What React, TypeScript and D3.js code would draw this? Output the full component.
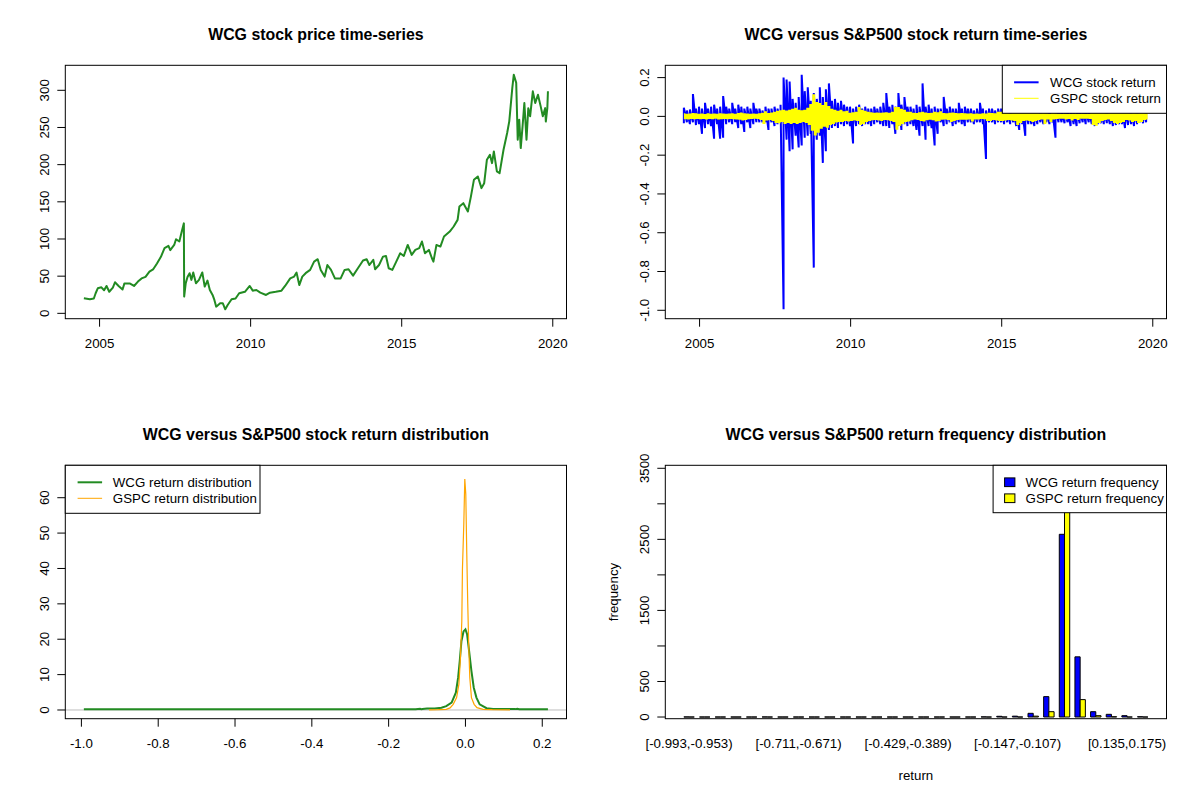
// Four-panel WCG vs S&P500 dashboard, laid out like R's mfrow = c(2, 2).
// Every panel is plain JSX with d3 scales and shapes.
import { useEffect } from "react";
import * as d3 from "d3";

const FONT = "'Liberation Sans', Arial, Helvetica, sans-serif";
const AXIS_FS = 13.3;
const TITLE_FS = 15.9;

// R margins at 96 dpi, cex 0.83: one line is about 15.9px
const MAR = { top: 65.3, right: 33.5, bottom: 81.3, left: 65.3 };
const PANEL_W = 600;
const PANEL_H = 400;
const plotW = PANEL_W - MAR.left - MAR.right;
const plotH = PANEL_H - MAR.top - MAR.bottom;

// ---- panel 1: WCG price ----
const priceDates = [
  2004.48, 2004.68, 2004.81, 2004.87, 2004.94, 2005.06, 2005.15, 2005.23, 2005.32, 2005.44,
  2005.51, 2005.63, 2005.76, 2005.82, 2006.01, 2006.14, 2006.27, 2006.39, 2006.52, 2006.65,
  2006.77, 2006.9, 2007.03, 2007.15, 2007.28, 2007.34, 2007.47, 2007.53, 2007.64, 2007.72,
  2007.79, 2007.8, 2007.85, 2007.91, 2007.98, 2008.04, 2008.1, 2008.19, 2008.29, 2008.4,
  2008.48, 2008.57, 2008.65, 2008.74, 2008.8, 2008.86, 2008.99, 2009.08, 2009.16, 2009.24,
  2009.37, 2009.5, 2009.62, 2009.81, 2009.97, 2010.07, 2010.19, 2010.32, 2010.51, 2010.64,
  2010.83, 2011.02, 2011.14, 2011.31, 2011.44, 2011.52, 2011.61, 2011.71, 2011.82, 2011.97,
  2012.1, 2012.22, 2012.32, 2012.45, 2012.54, 2012.66, 2012.79, 2012.98, 2013.11, 2013.24,
  2013.39, 2013.55, 2013.72, 2013.84, 2013.93, 2014.06, 2014.12, 2014.25, 2014.38, 2014.48,
  2014.57, 2014.69, 2014.82, 2014.95, 2015.07, 2015.2, 2015.33, 2015.45, 2015.58, 2015.67,
  2015.77, 2015.9, 2016.0, 2016.05, 2016.15, 2016.28, 2016.4, 2016.59, 2016.72, 2016.85,
  2016.91, 2017.04, 2017.19, 2017.29, 2017.39, 2017.52, 2017.64, 2017.73, 2017.82, 2017.92,
  2017.99, 2018.05, 2018.15, 2018.24, 2018.37, 2018.49, 2018.56, 2018.66, 2018.71, 2018.79,
  2018.84, 2018.89, 2018.94, 2019.0, 2019.06, 2019.13, 2019.19, 2019.25, 2019.34, 2019.42,
  2019.51, 2019.6, 2019.67, 2019.75, 2019.77, 2019.82, 2019.84,
];
const priceValues = [
  20.2, 19, 20, 27, 33.7, 35, 31, 36.8, 29, 34.6,
  41.8, 36.8, 32, 40, 40, 36.8, 42.7, 47, 49, 56,
  59, 67, 76, 87.6, 90.7, 85, 92, 99.7, 96.6, 110,
  121, 22.5, 40, 49, 54, 45, 55, 40.4, 45, 55,
  36, 44, 31.4, 24.7, 18, 9, 13.5, 13.5, 5.4, 11.2,
  18.9, 20, 27, 29, 36.8, 30.5, 31.4, 27.8, 24.7, 27.8,
  29, 30.5, 36.8, 47, 49.4, 54.8, 38, 49.4, 54, 58.4,
  69.6, 72.8, 58.4, 49.4, 65, 58.4, 47, 47, 58.4, 59.3,
  50.7, 60.6, 71, 72.8, 65, 71.9, 59.3, 65, 76.3, 77.2,
  60.6, 58.4, 69.6, 80.8, 77.2, 92, 78.6, 85.3, 87.6, 96.6,
  80.8, 85.3, 74.1, 69.6, 92, 89.8, 103.3, 110, 116.8, 125.7,
  143.7, 148.2, 137, 157, 179.6, 184.1, 168.4, 175, 206.6, 213.3,
  202, 217.8, 190.9, 188.6, 220, 242.5, 258.2, 303, 321, 310,
  233.5, 260.5, 222.3, 251.5, 283, 233.5, 276, 265, 298.6, 283,
  294, 278.4, 265, 276, 258, 276, 298.6,
];
const yearTicks = [2005, 2010, 2015, 2020];
const priceTicks = [0, 50, 100, 150, 200, 250, 300];

// ---- panel 2: daily returns, read as high / low per tenth of a year ----
const returnStart = 2004.48;
const returnStep = 0.1;
const wcgUp = [
  0.045, 0.03, 0.035, 0.115, 0.04,
  0.05, 0.04, 0.07, 0.04, 0.05, 0.06, 0.04, 0.05, 0.105, 0.05,
  0.04, 0.07, 0.04, 0.06, 0.05, 0.04, 0.05, 0.04, 0.07, 0.04,
  0.04, 0.03, 0.05, 0.04, 0.04, 0.05, 0.04, 0.06, 0.2, 0.19,
  0.18, 0.09, 0.07, 0.1, 0.215, 0.13, 0.15, 0.08, 0.12, 0.09,
  0.15, 0.1, 0.14, 0.17, 0.08, 0.09, 0.07, 0.08, 0.06, 0.05,
  0.05, 0.04, 0.05, 0.06, 0.04, 0.05, 0.04, 0.04, 0.05, 0.04,
  0.05, 0.07, 0.12, 0.05, 0.06, 0.05, 0.12, 0.06, 0.1, 0.05,
  0.05, 0.04, 0.06, 0.05, 0.17, 0.05, 0.06, 0.04, 0.05, 0.04,
  0.04, 0.1, 0.04, 0.05, 0.04, 0.04, 0.07, 0.04, 0.05, 0.04,
  0.04, 0.03, 0.04, 0.07, 0.04, 0.03, 0.04, 0.04, 0.03, 0.04,
  0.04, 0.03, 0.04, 0.03, 0.04, 0.03, 0.04, 0.03, 0.04, 0.03,
  0.03, 0.03, 0.04, 0.03, 0.03, 0.04, 0.03, 0.03, 0.04, 0.03,
  0.03, 0.035, 0.03, 0.04, 0.03, 0.035, 0.03, 0.04, 0.03, 0.035,
  0.03, 0.04, 0.035, 0.03, 0.04, 0.035, 0.04, 0.04, 0.05, 0.04,
  0.04, 0.035, 0.04, 0.03, 0.035, 0.04, 0.03, 0.035, 0.03,
];
const wcgDown = [
  -0.035, -0.03, -0.04, -0.03, -0.045,
  -0.04, -0.09, -0.06, -0.04, -0.05, -0.115, -0.04, -0.115, -0.11, -0.04,
  -0.03, -0.04, -0.03, -0.06, -0.04, -0.08, -0.03, -0.06, -0.04, -0.03,
  -0.03, -0.03, -0.03, -0.07, -0.03, -0.05, -0.04, -0.03, -0.995, -0.12,
  -0.18, -0.17, -0.1, -0.16, -0.15, -0.11, -0.1, -0.09, -0.78, -0.12,
  -0.1, -0.24, -0.18, -0.07, -0.06, -0.05, -0.06, -0.04, -0.05, -0.04,
  -0.05, -0.14, -0.05, -0.04, -0.05, -0.04, -0.04, -0.05, -0.04, -0.03,
  -0.04, -0.05, -0.05, -0.06, -0.04, -0.09, -0.05, -0.07, -0.04, -0.05,
  -0.04, -0.05, -0.07, -0.1, -0.05, -0.12, -0.05, -0.06, -0.15, -0.09,
  -0.03, -0.05, -0.04, -0.03, -0.05, -0.04, -0.03, -0.04, -0.05, -0.03,
  -0.03, -0.04, -0.03, -0.03, -0.04, -0.22, -0.03, -0.03, -0.04, -0.03,
  -0.03, -0.04, -0.03, -0.04, -0.03, -0.05, -0.07, -0.04, -0.1, -0.04,
  -0.04, -0.05, -0.04, -0.03, -0.04, -0.03, -0.04, -0.03, -0.11, -0.03,
  -0.03, -0.035, -0.03, -0.05, -0.04, -0.05, -0.035, -0.03, -0.04, -0.03,
  -0.04, -0.05, -0.04, -0.035, -0.04, -0.035, -0.04, -0.05, -0.045, -0.04,
  -0.04, -0.06, -0.045, -0.04, -0.05, -0.04, -0.03, -0.035, -0.03,
];
const gspcUp = [
  0.012, 0.01, 0.011, 0.013, 0.012,
  0.01, 0.011, 0.009, 0.012, 0.01, 0.011, 0.01, 0.012, 0.011, 0.01,
  0.011, 0.012, 0.01, 0.013, 0.016, 0.012, 0.011, 0.01, 0.011, 0.01,
  0.012, 0.015, 0.022, 0.014, 0.016, 0.02, 0.025, 0.028, 0.03, 0.026,
  0.03, 0.035, 0.04, 0.03, 0.028, 0.03, 0.04, 0.06, 0.11, 0.07,
  0.065, 0.055, 0.07, 0.05, 0.035, 0.03, 0.025, 0.03, 0.022, 0.025,
  0.015, 0.018, 0.02, 0.045, 0.03, 0.025, 0.02, 0.018, 0.015, 0.016,
  0.015, 0.016, 0.018, 0.015, 0.02, 0.045, 0.045, 0.035, 0.03, 0.02,
  0.02, 0.015, 0.013, 0.018, 0.02, 0.016, 0.014, 0.015, 0.02, 0.018,
  0.022, 0.014, 0.012, 0.015, 0.016, 0.013, 0.012, 0.014, 0.012, 0.011,
  0.012, 0.01, 0.011, 0.01, 0.012, 0.011, 0.015, 0.014, 0.012, 0.02,
  0.02, 0.018, 0.015, 0.012, 0.015, 0.04, 0.035, 0.025, 0.02, 0.015,
  0.025, 0.022, 0.015, 0.012, 0.015, 0.012, 0.01, 0.015, 0.012, 0.01,
  0.008, 0.01, 0.009, 0.008, 0.01, 0.009, 0.008, 0.01, 0.009, 0.008,
  0.018, 0.025, 0.025, 0.018, 0.015, 0.012, 0.015, 0.025, 0.03, 0.05,
  0.035, 0.02, 0.015, 0.012, 0.015, 0.012, 0.02, 0.015, 0.012,
];
const gspcDown = [
  -0.011, -0.012, -0.01, -0.011, -0.01,
  -0.011, -0.01, -0.012, -0.01, -0.011, -0.009, -0.012, -0.011, -0.01, -0.011,
  -0.01, -0.011, -0.012, -0.014, -0.018, -0.015, -0.011, -0.01, -0.009, -0.01,
  -0.015, -0.035, -0.018, -0.015, -0.02, -0.03, -0.032, -0.025, -0.035, -0.03,
  -0.035, -0.03, -0.035, -0.03, -0.025, -0.03, -0.04, -0.07, -0.095, -0.08,
  -0.06, -0.05, -0.055, -0.04, -0.035, -0.028, -0.025, -0.025, -0.02, -0.022,
  -0.02, -0.018, -0.02, -0.04, -0.035, -0.025, -0.02, -0.016, -0.015, -0.018,
  -0.02, -0.015, -0.016, -0.02, -0.025, -0.065, -0.045, -0.035, -0.025, -0.022,
  -0.016, -0.012, -0.015, -0.02, -0.022, -0.016, -0.014, -0.016, -0.022, -0.02,
  -0.014, -0.012, -0.015, -0.025, -0.02, -0.015, -0.014, -0.013, -0.013, -0.012,
  -0.023, -0.012, -0.012, -0.01, -0.011, -0.02, -0.02, -0.015, -0.018, -0.02,
  -0.02, -0.018, -0.015, -0.018, -0.02, -0.04, -0.03, -0.02, -0.018, -0.02,
  -0.025, -0.02, -0.015, -0.012, -0.036, -0.012, -0.025, -0.012, -0.01, -0.009,
  -0.008, -0.012, -0.01, -0.018, -0.01, -0.015, -0.009, -0.008, -0.009, -0.01,
  -0.04, -0.045, -0.03, -0.02, -0.015, -0.012, -0.02, -0.03, -0.035, -0.03,
  -0.025, -0.015, -0.018, -0.025, -0.02, -0.03, -0.025, -0.015, -0.012,
];
const returnTicks = [0.2, 0, -0.2, -0.4, -0.6, -0.8, -1.0];

// ---- panel 3: return densities ----
const wcgDensX = [
  -0.9936, -0.6, -0.3, -0.13, -0.118, -0.115, -0.112, -0.1, -0.08, -0.0625,
  -0.05, -0.036, -0.025, -0.019, -0.0148, -0.0104, -0.005, 0, 0.0043, 0.0095,
  0.0156, 0.0217, 0.0286, 0.037, 0.055, 0.072, 0.09, 0.11, 0.13, 0.135,
  0.14, 0.2148,
];
const wcgDensY = [
  0.2, 0.2, 0.2, 0.2, 0.35, 0.2, 0.3, 0.4, 0.45, 0.66,
  1.1, 2.1, 4.9, 9.2, 13.9, 19.5, 22.2, 22.8, 21.4, 16.7,
  11, 6.3, 3.5, 1.6, 0.5, 0.3, 0.3, 0.3, 0.25, 0.35,
  0.2, 0.2,
];
const gspcDensX = [
  -0.095, -0.07, -0.05, -0.04, -0.032, -0.023, -0.017, -0.013, -0.0095, -0.0078,
  -0.0043, -0.0017, 0.0009, 0.0035, 0.006, 0.0087, 0.0113, 0.0156, 0.0226, 0.03,
  0.046, 0.07, 0.116,
];
const gspcDensY = [
  0.05, 0.1, 0.2, 0.6, 1.6, 3.5, 7.3, 14.8, 25, 40,
  52.5, 65.3, 61, 44, 30, 17.6, 9.2, 3.5, 1.6, 0.66,
  0.2, 0.1, 0.05,
];
const densXTicks = [-1, -0.8, -0.6, -0.4, -0.2, 0, 0.2];
const densYTicks = [0, 10, 20, 30, 40, 50, 60];

// ---- panel 4: binned return frequencies ----
const binLabels = [
  "[-0.993,-0.953)", "[-0.953,-0.912)", "[-0.912,-0.872)", "[-0.872,-0.832)", "[-0.832,-0.792)",
  "[-0.792,-0.751)", "[-0.751,-0.711)", "[-0.711,-0.671)", "[-0.671,-0.63)", "[-0.63,-0.59)",
  "[-0.59,-0.55)", "[-0.55,-0.51)", "[-0.51,-0.469)", "[-0.469,-0.429)", "[-0.429,-0.389)",
  "[-0.389,-0.348)", "[-0.348,-0.308)", "[-0.308,-0.268)", "[-0.268,-0.228)", "[-0.228,-0.187)",
  "[-0.187,-0.147)", "[-0.147,-0.107)", "[-0.107,-0.0664)", "[-0.0664,-0.0261)", "[-0.0261,0.0141)",
  "[0.0141,0.0544)", "[0.0544,0.0947)", "[0.0947,0.135)", "[0.135,0.175)", "[0.175,0.215]",
];
const wcgFreq = [
  1, 0, 0, 0, 0, 1, 0, 0, 0, 0,
  0, 0, 0, 0, 0, 0, 0, 0, 0, 2,
  10, 12, 52, 287, 2571, 847, 75, 38, 19, 4,
];
const gspcFreq = [
  0, 0, 0, 0, 0, 0, 0, 0, 0, 0,
  0, 0, 0, 0, 0, 0, 0, 0, 0, 0,
  0, 0, 12, 75, 3505, 245, 19, 4, 0, 0,
];
const freqTicks = [0, 500, 1000, 1500, 2000, 2500, 3000, 3500];
const freqLabelled = [0, 500, 1500, 2500, 3500];

// R's default 4% axis extension
const rPad = ([lo, hi]: [number, number]): [number, number] => {
  const r = hi - lo;
  return [lo - 0.04 * r, hi + 0.04 * r];
};

const fmt1 = (v: number) => d3.format(".1f")(v).replace("−", "-");

function XAxis({ scale, ticks, format }: { scale: (v: number) => number; ticks: number[]; format: (v: number) => string }) {
  return (
    <g>
      {ticks.map((t) => (
        <g key={t}>
          <line x1={scale(t)} x2={scale(t)} y1={plotH} y2={plotH + 8} stroke="#000" />
          <text x={scale(t)} y={plotH + 29.6} textAnchor="middle" fontSize={AXIS_FS}>
            {format(t)}
          </text>
        </g>
      ))}
    </g>
  );
}

function YAxis({ scale, ticks, labelled, format }: { scale: (v: number) => number; ticks: number[]; labelled?: number[]; format: (v: number) => string }) {
  return (
    <g>
      {ticks.map((t) => (
        <g key={t}>
          <line x1={-8} x2={0} y1={scale(t)} y2={scale(t)} stroke="#000" />
          {(!labelled || labelled.includes(t)) && (
            <text transform={`translate(${-16.8},${scale(t)}) rotate(-90)`} textAnchor="middle" fontSize={AXIS_FS}>
              {format(t)}
            </text>
          )}
        </g>
      ))}
    </g>
  );
}

function Panel({ col, row, title, children }: { col: number; row: number; title: string; children: any }) {
  return (
    <g transform={`translate(${col * PANEL_W + MAR.left},${row * PANEL_H + MAR.top})`}>
      <text x={plotW / 2} y={39.7 - MAR.top} textAnchor="middle" fontSize={TITLE_FS} fontWeight="bold">
        {title}
      </text>
      {children}
    </g>
  );
}

function Box() {
  return <rect x={0} y={0} width={plotW} height={plotH} fill="none" stroke="#000" />;
}

type LegendItem = { label: string; color: string; width?: number; fill?: boolean };

function Legend({ left, right, height, sampleX, textX, items }: { left: number; right: number; height: number; sampleX: [number, number]; textX: number; items: LegendItem[] }) {
  return (
    <g>
      <rect x={left} y={0} width={right - left} height={height} fill="#fff" stroke="#000" />
      {items.map((it, i) => {
        const cy = 17 + i * 16;
        return (
          <g key={it.label}>
            {it.fill ? (
              <rect x={sampleX[0]} y={cy - 4.4} width={sampleX[1] - sampleX[0]} height={8.7} fill={it.color} stroke="#000" />
            ) : (
              <line x1={sampleX[0]} x2={sampleX[1]} y1={cy} y2={cy} stroke={it.color} strokeWidth={it.width ?? 1} />
            )}
            <text x={textX} y={cy + 4.7} fontSize={AXIS_FS}>
              {it.label}
            </text>
          </g>
        );
      })}
    </g>
  );
}

function PricePanel() {
  const x = d3.scaleLinear().domain(rPad(d3.extent(priceDates) as [number, number])).range([0, plotW]);
  const y = d3.scaleLinear().domain(rPad(d3.extent(priceValues) as [number, number])).range([plotH, 0]);
  const line = d3
    .line<number>()
    .x((_, i) => x(priceDates[i]))
    .y((d) => y(d));
  return (
    <Panel col={0} row={0} title="WCG stock price time-series">
      <path d={line(priceValues) ?? ""} fill="none" stroke="#228B22" strokeWidth={2} strokeLinejoin="round" />
      <Box />
      <XAxis scale={x} ticks={yearTicks} format={String} />
      <YAxis scale={y} ticks={priceTicks} format={String} />
    </Panel>
  );
}

const returnDate = (i: number) => returnStart + i * returnStep;

function ReturnPanel() {
  const x = d3.scaleLinear().domain(rPad(d3.extent(priceDates) as [number, number])).range([0, plotW]);
  const y = d3
    .scaleLinear()
    .domain(rPad([d3.min(wcgDown) as number, d3.max(wcgUp) as number]))
    .range([plotH, 0]);
  const line = d3
    .line<[number, number]>()
    .x((d) => x(d[0]))
    .y((d) => y(d[1]));
  // WCG: a vertical stroke per reading (low to high), joined to the next low
  const wcgPts: [number, number][] = [];
  wcgUp.forEach((u, i) => {
    wcgPts.push([returnDate(i), wcgDown[i]]);
    wcgPts.push([returnDate(i), u]);
  });
  // GSPC: a tight band, swept high / low
  const gspcPts: [number, number][] = [];
  gspcUp.forEach((u, i) => {
    gspcPts.push([returnDate(i), u]);
    gspcPts.push([returnDate(i) + returnStep / 2, gspcDown[i]]);
  });
  const band = d3
    .line<[number, number]>()
    .curve(d3.curveStep)
    .x((d) => x(d[0]))
    .y((d) => y(d[1]));
  return (
    <Panel col={1} row={0} title="WCG versus S&P500 stock return time-series">
      <path d={line(wcgPts) ?? ""} fill="none" stroke="#0000FF" strokeWidth={2} strokeLinejoin="bevel" />
      <path d={band(gspcPts) ?? ""} fill="none" stroke="#FFFF00" strokeWidth={1.5} />
      <Box />
      <XAxis scale={x} ticks={yearTicks} format={String} />
      <YAxis scale={y} ticks={returnTicks} format={fmt1} />
      <Legend
        left={337}
        right={plotW}
        height={48}
        sampleX={[348.8, 373.3]}
        textX={384.8}
        items={[
          { label: "WCG stock return", color: "#0000FF", width: 2 },
          { label: "GSPC stock return", color: "#FFFF00", width: 1 },
        ]}
      />
    </Panel>
  );
}

function DensityPanel() {
  const x = d3.scaleLinear().domain(rPad(d3.extent(wcgDensX) as [number, number])).range([0, plotW]);
  const y = d3.scaleLinear().domain([-2.46, 69.16]).range([plotH, 0]);
  const line = (xs: number[]) =>
    d3
      .line<number>()
      .x((_, i) => x(xs[i]))
      .y((d) => y(d));
  return (
    <Panel col={0} row={1} title="WCG versus S&P500 stock return distribution">
      <line x1={0} x2={plotW} y1={y(0)} y2={y(0)} stroke="#BEBEBE" />
      <path d={line(wcgDensX)(wcgDensY) ?? ""} fill="none" stroke="#228B22" strokeWidth={2} />
      <path d={line(gspcDensX)(gspcDensY) ?? ""} fill="none" stroke="#FFA500" strokeWidth={1.2} />
      <Box />
      <XAxis scale={x} ticks={densXTicks} format={fmt1} />
      <YAxis scale={y} ticks={densYTicks} format={String} />
      <Legend
        left={0}
        right={194.7}
        height={48}
        sampleX={[12.3, 36.8]}
        textX={47.5}
        items={[
          { label: "WCG return distribution", color: "#228B22", width: 2 },
          { label: "GSPC return distribution", color: "#FFA500", width: 1 },
        ]}
      />
    </Panel>
  );
}

function FrequencyPanel() {
  const x = d3.scaleBand<string>().domain(binLabels).range([0, plotW]).paddingInner(1 / 3).paddingOuter(1.1867);
  const sub = d3.scaleBand<string>().domain(["wcg", "gspc"]).range([0, x.bandwidth()]);
  const y = d3.scaleLinear().domain([-23.6, 3542]).range([plotH, 0]);
  const series = [
    { key: "wcg", values: wcgFreq, color: "#0000FF" },
    { key: "gspc", values: gspcFreq, color: "#FFFF00" },
  ];
  // paths rather than rects so empty bins still show their outline
  const bar = (x0: number, w: number, v: number) => `M${x0},${y(0)}V${y(v)}H${x0 + w}V${y(0)}Z`;
  return (
    <Panel col={1} row={1} title="WCG versus S&P500 return frequency distribution">
      {series.map((s) =>
        s.values.map((v, i) => (
          <path
            key={s.key + i}
            d={bar((x(binLabels[i]) ?? 0) + (sub(s.key) ?? 0), sub.bandwidth(), v)}
            fill={s.color}
            stroke="#000"
          />
        ))
      )}
      <Box />
      {binLabels.map((b, i) =>
        i % 7 === 0 ? (
          <text key={b} x={(x(b) ?? 0) + x.bandwidth() / 2} y={plotH + 29.6} textAnchor="middle" fontSize={AXIS_FS}>
            {b}
          </text>
        ) : null
      )}
      <YAxis scale={y} ticks={freqTicks} labelled={freqLabelled} format={String} />
      <text x={plotW / 2} y={plotH + 61.4} textAnchor="middle" fontSize={AXIS_FS}>
        return
      </text>
      <text transform={`translate(${-47.7},${plotH / 2}) rotate(-90)`} textAnchor="middle" fontSize={AXIS_FS}>
        frequency
      </text>
      <Legend
        left={327.8}
        right={plotW}
        height={47.4}
        sampleX={[339.3, 349.6]}
        textX={360.3}
        items={[
          { label: "WCG return frequency", color: "#0000FF", fill: true },
          { label: "GSPC return frequency", color: "#FFFF00", fill: true },
        ]}
      />
    </Panel>
  );
}

export default function App() {
  useEffect(() => {
    document.body.style.margin = "0";
  }, []);
  return (
    <svg width={1200} height={800} style={{ display: "block", background: "#fff" }} fontFamily={FONT}>
      <rect width={1200} height={800} fill="#fff" />
      <PricePanel />
      <ReturnPanel />
      <DensityPanel />
      <FrequencyPanel />
    </svg>
  );
}
